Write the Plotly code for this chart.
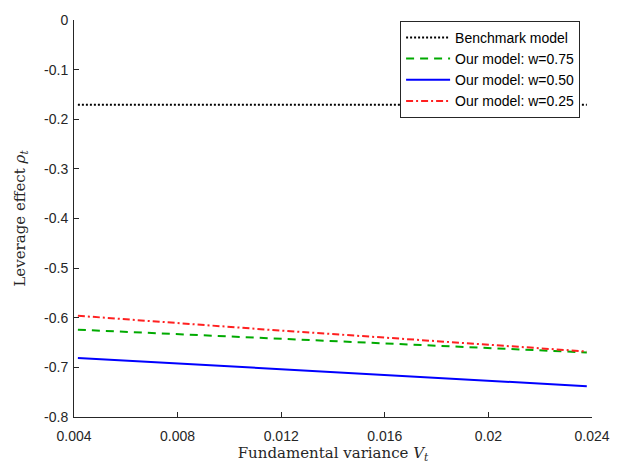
import plotly.graph_objects as go

# Data
x_vals = [0.00415, 0.008, 0.012, 0.016, 0.020, 0.0238]
benchmark = [-0.171, -0.171, -0.171, -0.171, -0.171, -0.171]
w075 = [-0.624, -0.633, -0.643, -0.652, -0.661, -0.670]
w050 = [-0.681, -0.692, -0.704, -0.715, -0.727, -0.738]
w025 = [-0.596, -0.611, -0.626, -0.640, -0.654, -0.668]

x_ticks = [0.004, 0.008, 0.012, 0.016, 0.020, 0.024]
x_ticktext = ["0.004", "0.008", "0.012", "0.016", "0.02", "0.024"]
y_ticks = [0, -0.1, -0.2, -0.3, -0.4, -0.5, -0.6, -0.7, -0.8]
y_ticktext = ["0", "-0.1", "-0.2", "-0.3", "-0.4", "-0.5", "-0.6", "-0.7", "-0.8"]

fig = go.Figure()
fig.add_trace(go.Scatter(x=x_vals, y=benchmark, mode="lines", name="Benchmark model",
                         line=dict(color="black", width=2, dash="2px,2px")))
fig.add_trace(go.Scatter(x=x_vals, y=w075, mode="lines", name="Our model: w=0.75",
                         line=dict(color="#00aa00", width=2, dash="8px,6px")))
fig.add_trace(go.Scatter(x=x_vals, y=w050, mode="lines", name="Our model: w=0.50",
                         line=dict(color="#0000ff", width=2, dash="solid")))
fig.add_trace(go.Scatter(x=x_vals, y=w025, mode="lines", name="Our model: w=0.25",
                         line=dict(color="#ff2020", width=2, dash="7px,3px,2px,3px")))

axis_common = dict(showline=True, linecolor="#262626", linewidth=1, ticks="inside",
                   ticklen=5, tickcolor="#262626", showgrid=False, zeroline=False,
                   mirror=False, tickfont=dict(family="Liberation Sans, Arial", size=14, color="#262626"))

title_font = dict(family="DejaVu Serif", size=15, color="#262626")

fig.update_xaxes(range=[0.004, 0.024], tickvals=x_ticks, ticktext=x_ticktext,
                 ticklabelstandoff=6,
                 title=dict(text="Fundamental variance <i>V</i><sub><i>t</i></sub>",
                            font=title_font, standoff=2),
                 **axis_common)
fig.update_yaxes(range=[-0.8, 0], tickvals=y_ticks, ticktext=y_ticktext,
                 ticklabelstandoff=2,
                 title=dict(text="Leverage effect <i>ρ</i><sub><i>t</i></sub>",
                            font=title_font, standoff=14),
                 **axis_common)

fig.update_layout(
    width=622, height=471,
    margin=dict(l=74, r=29, t=12, b=54),
    paper_bgcolor="white", plot_bgcolor="white",
    showlegend=True,
    legend=dict(x=0.977, y=0.998, xanchor="right", yanchor="top",
                bgcolor="white", bordercolor="#262626", borderwidth=1,
                font=dict(family="Liberation Sans, Arial", size=14, color="black"),
                tracegroupgap=0, itemwidth=44),
)

fig.write_html("out.html")
